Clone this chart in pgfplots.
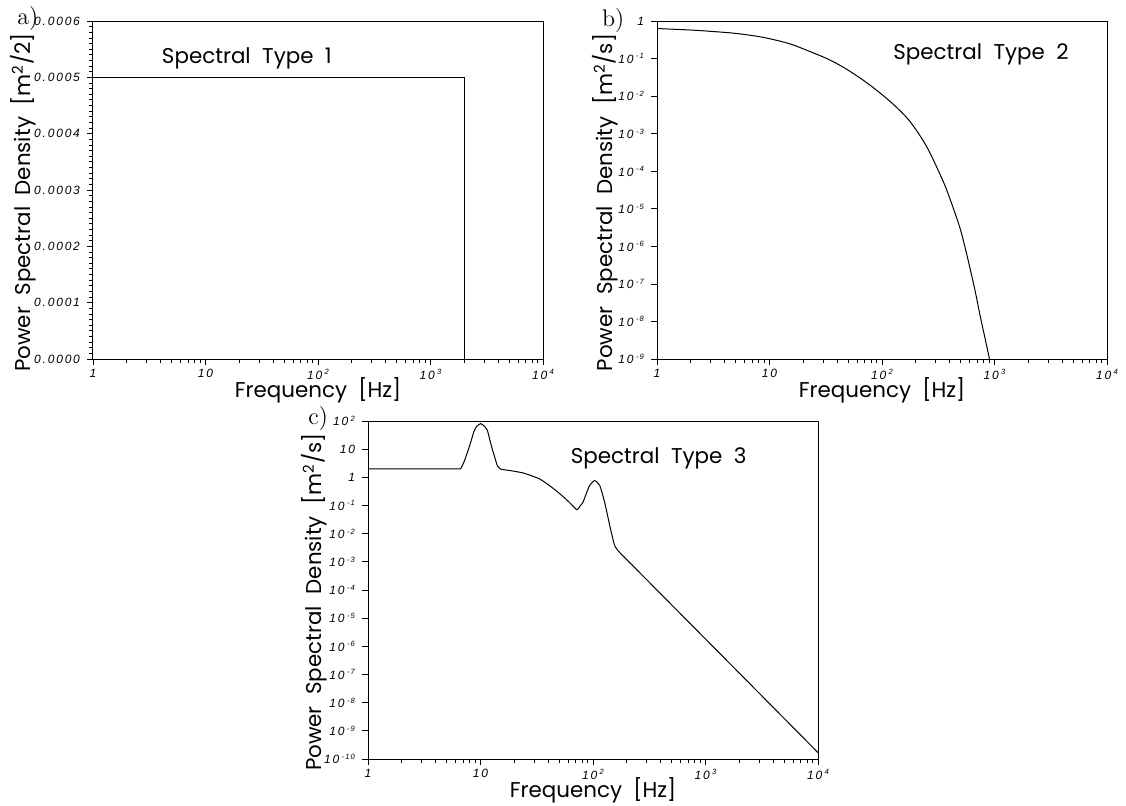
\documentclass[border=0pt]{standalone}
\usepackage{pgfplots}
\pgfplotsset{compat=1.18}
\usepackage{fontspec}
\newfontfamily\tickf{Liberation Sans}[LetterSpace=15]
\newfontfamily\labf{Poppins}
\newcommand{\tk}{\tickf\itshape\fontsize{6}{7}\selectfont}
\newcommand{\pw}[1]{10\hspace{0.2em}\raisebox{0.7ex}{\fontsize{3.8}{4}\selectfont #1}}
\newcommand{\lbl}{\labf\fontsize{10.7}{12}\selectfont}

\pgfplotsset{myp/.style={
  scale only axis, width=225pt, height=169pt, anchor=north west,
  axis line style={line width=0.5pt},
  tick align=outside, xtick pos=bottom, ytick pos=left,
  major tick length=3pt, minor tick length=2pt,
  every tick/.style={black, line width=0.4pt},
  xmin=1, xmax=10000,
  xtick={1,10,100,1000,10000},
  xticklabels={1,10,\pw{2},\pw{3},\pw{4}},
  ticklabel style={font=\tk},
  xticklabel style={inner ysep=1pt, yshift=-1pt},
  yticklabel style={anchor=east},
  label style={font=\lbl, inner sep=0pt},
  xlabel={Frequency\ \ [Hz]},
}}

\begin{document}
\begin{tikzpicture}
\path[use as bounding box] (0,0) rectangle (563pt,-402.5pt);

% ---------- a) ----------
\begin{axis}[xmode=log, myp, at={(46.5pt,-10.5pt)},
  ymin=0, ymax=0.0006, scaled y ticks=false,
  ytick={0,0.0001,0.0002,0.0003,0.0004,0.0005,0.0006},
  yticklabels={0.0000,0.0001,0.0002,0.0003,0.0004,0.0005,0.0006},
  minor y tick num=9,
  ylabel={Power\ \ Spectral\ \ Density\ \ [m\textsuperscript{2}/2]},
  x label style={at={(axis description cs:0.5,-0.115)}, anchor=base},
  y label style={at={(axis description cs:-0.138,0.463)}, anchor=base},
]
\addplot[black, line width=0.5pt] coordinates {(1,0.0005) (2000,0.0005) (2000,0) (10000,0)};
\node[font=\lbl, anchor=base] at (axis description cs:0.342,0.875) {Spectral\ \ Type\ \ 1};
\end{axis}

% ---------- b) ----------
\begin{axis}[xmode=log, ymode=log, myp, at={(328.5pt,-10.5pt)},
  ymin=1e-9, ymax=1,
  ytick={1,1e-1,1e-2,1e-3,1e-4,1e-5,1e-6,1e-7,1e-8,1e-9},
  yticklabels={1,\pw{-1},\pw{-2},\pw{-3},\pw{-4},\pw{-5},\pw{-6},\pw{-7},\pw{-8},\pw{-9}},
  ylabel={Power\ \ Spectral\ \ Density\ \ [m\textsuperscript{2}/s]},
  x label style={at={(axis description cs:0.5,-0.115)}, anchor=base},
  y label style={at={(axis description cs:-0.098,0.463)}, anchor=base},
]
\addplot[black, line width=0.5pt, smooth, tension=0.5] coordinates {
(1,0.631) (1.995,0.575) (3.162,0.525) (5.012,0.468) (8.26,0.380)
(12.59,0.288) (16.33,0.229) (22.39,0.158) (32.36,0.1) (44.67,0.0603)
(63.97,0.0302) (89.13,0.0145) (126.2,6.03e-3) (177.8,2.09e-3) (250.0,4.47e-4)
(350.8,5.25e-5) (416.9,1.35e-5) (494.3,3.02e-6) (549.5,8.91e-7) (605.3,2.63e-7)
(676.1,6.03e-8) (743.0,1.48e-8) (812.8,4.27e-9) (881.0,1.41e-9) (901.6,1.0e-9)
};
\node[font=\lbl, anchor=base] at (axis description cs:0.72,0.885) {Spectral\ \ Type\ \ 2};
\end{axis}

% ---------- c) ----------
\begin{axis}[xmode=log, ymode=log, myp, at={(184pt,-210.5pt)},
  ymin=1e-10, ymax=100,
  ytick={100,10,1,1e-1,1e-2,1e-3,1e-4,1e-5,1e-6,1e-7,1e-8,1e-9,1e-10},
  yticklabels={\pw{2},10,1,\pw{-1},\pw{-2},\pw{-3},\pw{-4},\pw{-5},\pw{-6},\pw{-7},\pw{-8},\pw{-9},\pw{-10}},
  ylabel={Power\ \ Spectral\ \ Density\ \ [m\textsuperscript{2}/s]},
  x label style={at={(axis description cs:0.5,-0.113)}, anchor=base},
  y label style={at={(axis description cs:-0.1025,0.464)}, anchor=base},
]
\addplot[black, line width=0.5pt, smooth, tension=0.35] coordinates {
(1,2.0) (3,2.0) (6.3,2.0) (6.7,2.1) (7.2,3.9) (7.85,10.4) (8.3,21.4) (8.71,40.7)
(9.2,63) (10,80.7) (10.8,66) (11.5,46.8) (12.1,21.4) (12.7,10.4) (13.4,5.1)
(14.1,2.63) (15.0,1.98) (15.6,1.90) (19.0,1.70) (23.6,1.45) (28.2,1.15)
(33.3,0.89) (39.8,0.56) (46.9,0.339) (54,0.21) (61.7,0.129) (71.9,0.0708)
(76.5,0.095) (81.3,0.129) (87,0.26) (93.3,0.513) (103.3,0.769) (114.8,0.513)
(127,0.129) (141,0.0191) (156,0.00372) (173,0.00214) (200,1.19e-3)
(1000,1.82e-6) (10000,1.69e-10)
};
\node[font=\lbl, anchor=base] at (axis description cs:0.646,0.875) {Spectral\ \ Type\ \ 3};
\end{axis}

\node[anchor=base west, font=\fontsize{12}{14}\selectfont, inner sep=0pt] at (8.5pt,-12pt) {a)};
\node[anchor=base west, font=\fontsize{12}{14}\selectfont, inner sep=0pt] at (300.8pt,-13pt) {b)};
\node[anchor=base west, font=\fontsize{12}{14}\selectfont, inner sep=0pt] at (154pt,-212pt) {c)};
\end{tikzpicture}
\end{document}
